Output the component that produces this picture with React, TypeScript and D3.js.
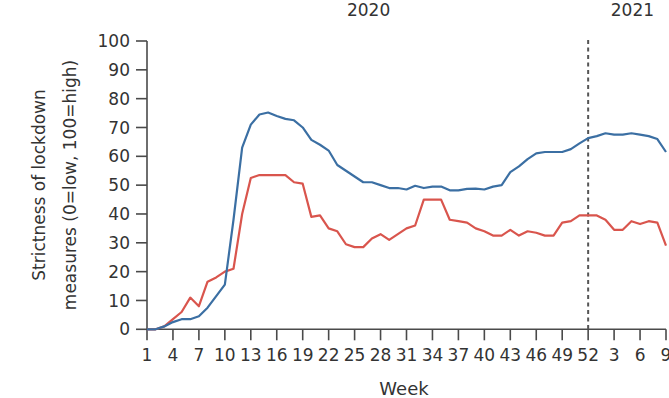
import React from "react";
import * as d3 from "d3";

// Week index 1..61 (2020 weeks 1-52, then 2021 weeks 1-9)
const weekIndex: number[] = Array.from({ length: 61 }, (_, i) => i + 1);

const seriesBlue: number[] = [
  0, 0, 1, 2.5, 3.5, 3.5, 4.5, 7.5, 11.5, 15.5,
  38, 63, 71, 74.5, 75.2, 74, 73, 72.5, 70, 65.7,
  64, 62, 57, 55, 53, 51, 51, 50, 49, 49,
  48.5, 49.8, 49, 49.5, 49.5, 48.2, 48.2, 48.7, 48.8, 48.5,
  49.5, 50, 54.5, 56.5, 59, 61, 61.5, 61.5, 61.5, 62.5,
  64.5, 66.3,
  67, 68, 67.5, 67.5, 68, 67.5, 67, 66, 61.5,
];

const seriesRed: number[] = [
  0, 0, 1, 3.5, 6, 11, 8, 16.5, 18, 20,
  21, 40, 52.5, 53.5, 53.5, 53.5, 53.5, 51, 50.5, 39,
  39.5, 35, 34, 29.5, 28.5, 28.5, 31.5, 33, 31, 33,
  35, 36, 45, 45, 45, 38, 37.5, 37, 35, 34,
  32.5, 32.5, 34.5, 32.5, 34, 33.5, 32.5, 32.5, 37, 37.5,
  39.5, 39.5,
  39.5, 38, 34.5, 34.5, 37.5, 36.5, 37.5, 37, 29,
];

const xTickIndex: number[] = [1, 4, 7, 10, 13, 16, 19, 22, 25, 28, 31, 34, 37, 40, 43, 46, 49, 52, 55, 58, 61];
const xTickLabels: string[] = ["1", "4", "7", "10", "13", "16", "19", "22", "25", "28", "31", "34", "37", "40", "43", "46", "49", "52", "3", "6", "9"];
const yTicks: number[] = [0, 10, 20, 30, 40, 50, 60, 70, 80, 90, 100];
const yearLabels: string[] = ["2020", "2021"];
const yearSpans: [number, number][] = [[1, 52], [53, 61]];
const yearBreak = 52;

const FONT = "'DejaVu Sans', sans-serif";
const AXIS = "#4a4a4a";
const TEXT = "#333333";

export default function App() {
  const W = 669, H = 398;
  const x = d3.scaleLinear().domain([1, 61]).range([147, 666]);
  const y = d3.scaleLinear().domain([0, 100]).range([329.3, 41]);

  const line = d3.line<number>()
    .x((_, i) => x(weekIndex[i]))
    .y((d) => y(d));

  return (
    <svg width={W} height={H} style={{ position: "absolute", left: 0, top: 0, background: "#fff" }}>
      {/* year labels */}
      {yearLabels.map((t, i) => (
        <text key={t} x={(x(yearSpans[i][0]) + x(yearSpans[i][1])) / 2 + (i === 0 ? 1 : 1)} y={16}
          textAnchor="middle" fontFamily={FONT} fontSize={17} fill={TEXT}>{t}</text>
      ))}

      {/* y axis */}
      <line x1={x(1)} x2={x(1)} y1={y(100)} y2={y(0)} stroke={AXIS} strokeWidth={1.6} />
      {yTicks.map((t) => (
        <g key={t}>
          <line x1={x(1) - 11} x2={x(1)} y1={y(t)} y2={y(t)} stroke={AXIS} strokeWidth={1.6} />
          <text x={x(1) - 17} y={y(t)} dy="0.36em" textAnchor="end" fontFamily={FONT} fontSize={17} fill={TEXT}>{t}</text>
        </g>
      ))}

      {/* x axis */}
      <line x1={x(1)} x2={x(61)} y1={y(0)} y2={y(0)} stroke={AXIS} strokeWidth={1.6} />
      {xTickIndex.map((t, i) => (
        <g key={t}>
          <line x1={x(t)} x2={x(t)} y1={y(0)} y2={y(0) + 11} stroke={AXIS} strokeWidth={1.6} />
          <text x={x(t)} y={361} textAnchor="middle" fontFamily={FONT} fontSize={17} fill={TEXT}>{xTickLabels[i]}</text>
        </g>
      ))}

      {/* year break */}
      <line x1={x(yearBreak)} x2={x(yearBreak)} y1={40} y2={y(0)} stroke="#555" strokeWidth={2} strokeDasharray="4 3.5" />

      {/* series */}
      <path d={line(seriesRed) || ""} fill="none" stroke="#d9554d" strokeWidth={2.2} strokeLinejoin="round" />
      <path d={line(seriesBlue) || ""} fill="none" stroke="#3b6fa3" strokeWidth={2.2} strokeLinejoin="round" />

      {/* axis titles */}
      <text x={404} y={395} textAnchor="middle" fontFamily={FONT} fontSize={18} fill={TEXT}>Week</text>
      <g transform="translate(45,185) rotate(-90)">
        <text x={0} y={0} textAnchor="middle" fontFamily={FONT} fontSize={17} fill={TEXT}>Strictness of lockdown</text>
        <text x={0} y={31} textAnchor="middle" fontFamily={FONT} fontSize={17} fill={TEXT}>measures (0=low, 100=high)</text>
      </g>
    </svg>
  );
}
